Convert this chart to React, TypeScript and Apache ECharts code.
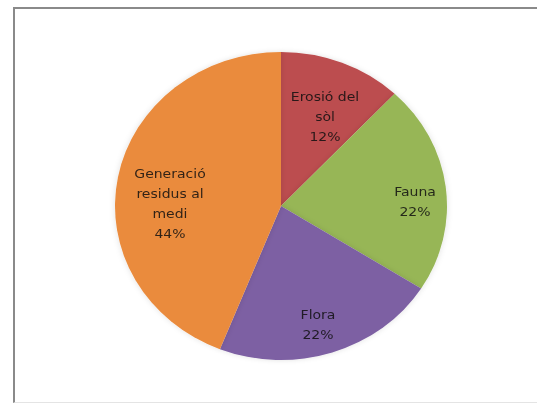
import React, { useEffect, useRef } from "react";
import * as echarts from "echarts";

const categories = ["Erosió del sòl", "Fauna", "Flora", "Generació residus al medi"];
const values = [12, 22, 22, 44];
const labelNames = ["Erosió del\nsòl", "Fauna", "Flora", "Generació\nresidus al\nmedi"];
const colors = ["#BC4D4F", "#97B656", "#7D60A3", "#EA8B3C"];

// layout (final page pixels)
const SY = 154 / 166; // vertical squash making the pie an ellipse
const CX = 281;
const CY = 206;
const R = 166;
const labelCenters: [number, number][] = [
  [325, 116],
  [415, 201],
  [318, 324],
  [170, 203],
];

export default function App() {
  const ref = useRef<HTMLDivElement>(null);
  useEffect(() => {
    if (!ref.current) return;
    const chart = echarts.init(ref.current, null, { renderer: "svg" });
    chart.setOption({
      animation: false,
      backgroundColor: "transparent",
      series: [
        {
          type: "pie",
          startAngle: 90,
          clockwise: true,
          center: [CX, CY / SY],
          radius: R,
          avoidLabelOverlap: false,
          data: categories.map((c, i) => ({
            name: c,
            value: values[i],
            itemStyle: { color: colors[i] },
          })),
          itemStyle: {
            borderWidth: 0,
            shadowBlur: 6,
            shadowColor: "rgba(0,0,0,0.12)",
          },
          label: {
            show: true,
            position: "inside",
            formatter: (p: any) => `${labelNames[p.dataIndex]}\n${Math.round(p.percent)}%`,
            fontFamily: "DejaVu Sans",
            fontSize: 14,
            lineHeight: 21.5,
            color: "rgba(15,15,15,0.85)",
            align: "center",
          },
          labelLayout: (params: any) => ({
            x: labelCenters[params.dataIndex][0],
            y: labelCenters[params.dataIndex][1] / SY,
            align: "center",
            verticalAlign: "middle",
          }),
          labelLine: { show: false },
          emphasis: { disabled: true },
        },
      ],
    });
    return () => chart.dispose();
  }, []);

  return (
    <div
      style={{
        position: "fixed",
        left: 0,
        top: 0,
        width: 537,
        height: 404,
        overflow: "hidden",
        background: "#ffffff",
      }}
    >
      <div
        style={{
          position: "absolute",
          left: 13,
          top: 7,
          width: 600,
          height: 396,
          boxSizing: "border-box",
          borderLeft: "2px solid #8a8a8a",
          borderTop: "2px solid #8a8a8a",
          borderBottom: "1px solid #e4e4e4",
        }}
      />
      <div
        ref={ref}
        style={{
          position: "absolute",
          left: 0,
          top: 0,
          width: 537,
          height: Math.round(404 / SY),
          transform: `scaleY(${SY})`,
          transformOrigin: "top left",
        }}
      />
    </div>
  );
}
